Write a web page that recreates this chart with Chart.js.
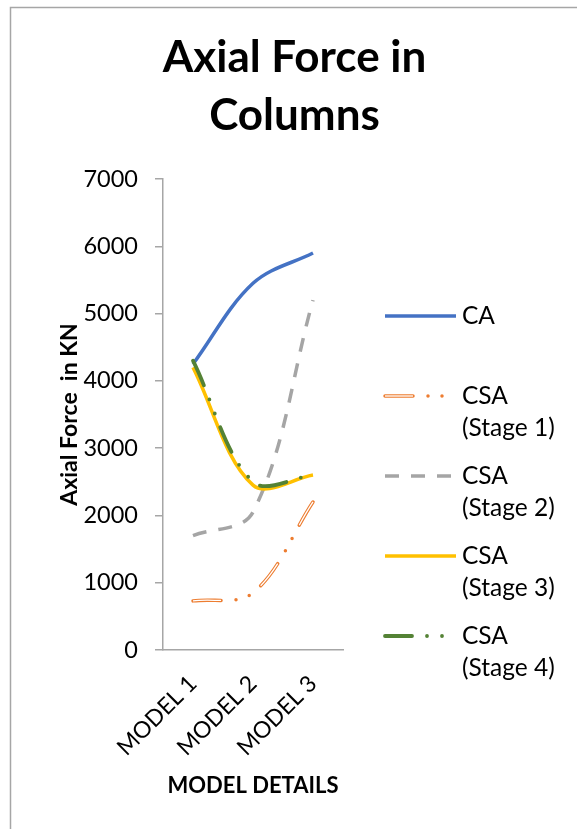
<!DOCTYPE html>
<html>
<head>
<meta charset="utf-8">
<script src="https://cdn.jsdelivr.net/npm/chart.js@4/dist/chart.umd.min.js"></script>
<style>
  html, body { margin: 0; padding: 0; background: #fff; }
  #wrap { width: 577px; height: 829px; }
</style>
</head>
<body>
<div id="wrap"><canvas id="chart" width="577" height="829"></canvas></div>
<script>
// Axial force (kN) per model
const categories = ['MODEL 1', 'MODEL 2', 'MODEL 3'];
const caForce = [4250, 5450, 5900];
const csaStage1Force = [730, 850, 2200];
const csaStage2Force = [1700, 2050, 5200];
const csaStage3Force = [4200, 2450, 2600];
const csaStage4Force = [4300, 2500, 2600];

const seriesLabels = [
  ['CA'],
  ['CSA', '(Stage 1)'],
  ['CSA', '(Stage 2)'],
  ['CSA', '(Stage 3)'],
  ['CSA', '(Stage 4)']
];
const yAxisMin = 0;
const yAxisMax = 7000;
const yAxisStep = 1000;

const FONT = 'Lato';
const AXIS_GREY = '#A6A6A6';

Chart.defaults.font.family = FONT;
Chart.defaults.color = '#000';

function lineSeries(label, data, color, extra) {
  return Object.assign({
    label: label,
    data: data,
    borderColor: color,
    backgroundColor: color,
    borderWidth: 3.5,
    pointRadius: 0,
    pointHoverRadius: 0,
    tension: 0.35,
    fill: false,
    borderCapStyle: 'butt'
  }, extra || {});
}

// dash patterns: long dash + two dots, and plain dashes
const dashDotDot = [28, 15, 0, 14, 0, 15];
const dashDotDotGreen = [27, 15, 0, 15, 0, 15];
const plainDash = [14, 12];

const datasets = [
  lineSeries('CA', caForce, '#4472C4', { order: 6, legendLines: seriesLabels[0] }),
  lineSeries('CSA (Stage 1)', csaStage1Force, '#ED7D31', {
    order: 5, borderDash: dashDotDot, borderCapStyle: 'round', legendLines: seriesLabels[1],
    hollowWidth: 1.3
  }),
  // white core that makes the long dashes of Stage 1 look hollow
  lineSeries('CSA (Stage 1) core', csaStage1Force, '#FFFFFF', {
    order: 4.5, borderWidth: 1.3, borderDash: [28, 44]
  }),
  lineSeries('CSA (Stage 2)', csaStage2Force, '#A5A5A5', { order: 4, borderDash: plainDash, legendLines: seriesLabels[2] }),
  lineSeries('CSA (Stage 3)', csaStage3Force, '#FFC000', { order: 3, legendLines: seriesLabels[3] }),
  lineSeries('CSA (Stage 4)', csaStage4Force, '#548235', {
    order: 2, borderDash: dashDotDotGreen, borderCapStyle: 'round', borderWidth: 3.8, legendLines: seriesLabels[4]
  })
];

// outer frame: left and top edges
const framePlugin = {
  id: 'frame',
  beforeDraw(chart) {
    const ctx = chart.ctx;
    ctx.save();
    ctx.fillStyle = '#fff';
    ctx.fillRect(0, 0, chart.width, chart.height);
    ctx.strokeStyle = AXIS_GREY;
    ctx.lineWidth = 1.5;
    ctx.beginPath();
    ctx.moveTo(10.5, chart.height);
    ctx.lineTo(10.5, 7.5);
    ctx.lineTo(chart.width, 7.5);
    ctx.stroke();
    ctx.restore();
  }
};

// legend on the right with line samples and wrapped names
const sideLegendPlugin = {
  id: 'sideLegend',
  afterDraw(chart) {
    const ctx = chart.ctx;
    const x0 = 385, x1 = 456, textX = 462;
    const firstY = 316, step = 80, lineGap = 32;
    const entries = chart.data.datasets.filter(d => d.legendLines);
    ctx.save();
    entries.forEach((ds, i) => {
      const y = firstY + i * step;
      ctx.save();
      ctx.strokeStyle = ds.borderColor;
      ctx.lineWidth = ds.borderWidth;
      ctx.lineCap = ds.borderCapStyle || 'butt';
      ctx.setLineDash(ds.borderDash || []);
      ctx.beginPath();
      ctx.moveTo(x0, y);
      ctx.lineTo(x1, y);
      ctx.stroke();
      if (ds.hollowWidth) {
        ctx.strokeStyle = '#fff';
        ctx.lineWidth = ds.hollowWidth;
        ctx.lineCap = 'butt';
        const pat = ds.borderDash;
        const period = pat.reduce((a, b) => a + b, 0);
        ctx.setLineDash([pat[0], period - pat[0]]);
        ctx.beginPath();
        ctx.moveTo(x0, y);
        ctx.lineTo(x1, y);
        ctx.stroke();
      }
      ctx.restore();
      ctx.fillStyle = '#000';
      ctx.font = '24.5px ' + FONT;
      ctx.textAlign = 'left';
      ctx.textBaseline = 'middle';
      ds.legendLines.forEach((t, k) => ctx.fillText(t, textX, y + k * lineGap));
    });
    ctx.restore();
  }
};

new Chart(document.getElementById('chart'), {
  type: 'line',
  data: { labels: categories, datasets: datasets },
  plugins: [framePlugin, sideLegendPlugin],
  options: {
    responsive: false,
    animation: false,
    events: [],
    layout: { padding: { left: 12, right: 0, top: 0, bottom: 0 } },
    plugins: {
      legend: { display: false },
      tooltip: { enabled: false },
      title: {
        display: true,
        text: ['Axial Force in', 'Columns'],
        color: '#000',
        font: { family: FONT, size: 44, weight: 'bold', lineHeight: 58 / 44 },
        padding: { top: 29, bottom: 34 }
      }
    },
    scales: {
      x: {
        offset: true,
        grid: { display: false },
        border: { display: true, color: AXIS_GREY, width: 1.5 },
        ticks: { minRotation: 45, maxRotation: 45, padding: 12, color: '#000', font: { size: 23 } },
        title: {
          display: true, text: 'MODEL DETAILS', color: '#000',
          font: { size: 22, weight: 'bold' }, padding: { top: 0, bottom: 30 }
        },
        afterFit(scale) { scale.height = 179; }
      },
      y: {
        min: yAxisMin,
        max: yAxisMax,
        ticks: {
          stepSize: yAxisStep, padding: 17, color: '#000', font: { size: 23.5 },
          callback: (value) => String(value)
        },
        grid: { drawOnChartArea: false, drawTicks: true, tickLength: 8, color: AXIS_GREY, lineWidth: 1.5 },
        border: { display: true, color: AXIS_GREY, width: 1.5 },
        title: {
          display: true, text: 'Axial Force  in KN', color: '#000',
          font: { size: 23, weight: 'bold' }, padding: { top: 44, bottom: 0 }
        },
        afterFit(scale) { scale.width = 151; }
      },
      // empty right-hand column that holds the legend
      legendSpace: {
        type: 'linear',
        position: 'right',
        display: true,
        grid: { display: false },
        border: { display: false },
        ticks: { display: false },
        afterFit(scale) { scale.width = 234; }
      }
    }
  }
});
</script>
</body>
</html>
